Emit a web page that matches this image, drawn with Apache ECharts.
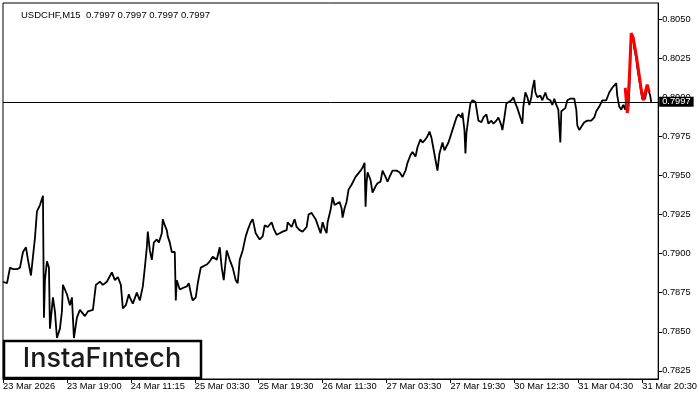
<!DOCTYPE html>
<html><head><meta charset="utf-8">
<script src="https://cdn.jsdelivr.net/npm/echarts@6/dist/echarts.min.js"></script>
<style>html,body{margin:0;padding:0;background:#fff}#c{width:700px;height:400px}</style>
</head><body><div id="c"></div><script>
const symbolName = 'USDCHF,M15';
const lastPrice = 0.7997;
const barIndex = [0,4,7,10,14,17,20,23,25,28,30,32,34,37,40,41,42,44,46,47,50,52,54,57,59,60,64,67,69,71,74,77,82,85,90,93,97,100,104,109,112,115,118,120,123,126,127,130,134,137,140,142,144,145,147,149,151,154,156,159,160,162,164,165,167,169,172,173,174,177,180,184,186,189,190,193,195,198,200,204,207,210,214,217,219,221,224,227,230,233,235,237,240,243,245,248,250,253,255,257,260,262,265,269,271,274,277,280,284,285,289,292,294,297,300,304,306,309,311,313,315,318,320,322,324,325,328,330,332,334,337,339,340,342,344,346,349,351,353,355,358,360,362,363,364,365,368,370,373,375,378,380,383,385,387,390,394,397,400,403,405,408,410,413,415,418,420,423,425,427,429,431,433,435,437,440,442,444,446,449,451,454,456,459,460,462,463,464,466,468,470,473,474,476,479,481,484,486,489,491,494,496,499,500,502,504,506,509,511,513,515,517,520,521,523,525,527,529,530,532,533,535,538,540,543,545,548,550,552,554,556,558,559,561,563,565,568,570,572,574,575,577,580,582,585,589,592,594,597,600,602,604,607,610,612,614,615,617,619,621,623,624,626,627,628,629,631,632,634,635,637,639,640,643,645,647,648,649];
const closePrice = [0.7882,0.7881,0.7891,0.7890,0.7890,0.7891,0.7901,0.7904,0.7896,0.7886,0.7898,0.7910,0.7927,0.7931,0.7937,0.7859,0.7883,0.7895,0.7891,0.7852,0.7872,0.7863,0.7846,0.7852,0.7863,0.7880,0.7874,0.7867,0.7872,0.7846,0.7859,0.7864,0.7860,0.7863,0.7864,0.7880,0.7882,0.7880,0.7882,0.7888,0.7883,0.7885,0.7880,0.7865,0.7867,0.7874,0.7872,0.7868,0.7875,0.7870,0.7879,0.7891,0.7904,0.7914,0.7902,0.7896,0.7907,0.7909,0.7907,0.7913,0.7922,0.7918,0.7915,0.7911,0.7907,0.7901,0.7901,0.7870,0.7883,0.7877,0.7878,0.7879,0.7881,0.7872,0.7870,0.7872,0.7881,0.7891,0.7891,0.7893,0.7895,0.7898,0.7896,0.7904,0.7891,0.7883,0.7902,0.7896,0.7891,0.7883,0.7881,0.7896,0.7902,0.7911,0.7915,0.7920,0.7922,0.7913,0.7914,0.7909,0.7911,0.7918,0.7917,0.7920,0.7916,0.7912,0.7913,0.7914,0.7915,0.7920,0.7917,0.7922,0.7917,0.7915,0.7914,0.7917,0.7925,0.7926,0.7927,0.7922,0.7923,0.7913,0.7920,0.7916,0.7913,0.7920,0.7928,0.7936,0.7931,0.7930,0.7933,0.7929,0.7923,0.7929,0.7933,0.7941,0.7944,0.7945,0.7949,0.7948,0.7953,0.7955,0.7958,0.7930,0.7945,0.7952,0.7947,0.7939,0.7943,0.7945,0.7946,0.7953,0.7949,0.7946,0.7949,0.7953,0.7953,0.7952,0.7949,0.7953,0.7958,0.7963,0.7965,0.7962,0.7968,0.7973,0.7971,0.7973,0.7975,0.7978,0.7974,0.7967,0.7960,0.7953,0.7964,0.7971,0.7966,0.7965,0.7971,0.7977,0.7981,0.7987,0.7989,0.7987,0.7990,0.7979,0.7964,0.7977,0.7987,0.7996,0.7998,0.7997,0.7996,0.7985,0.7984,0.7987,0.7989,0.7983,0.7985,0.7983,0.7985,0.7987,0.7982,0.7979,0.7987,0.7996,0.7997,0.7998,0.8000,0.7996,0.7993,0.7992,0.7983,0.7994,0.8003,0.8000,0.7995,0.8000,0.8005,0.8011,0.8003,0.8000,0.8001,0.7998,0.8003,0.7999,0.7998,0.7995,0.7999,0.7995,0.7992,0.7971,0.7991,0.7990,0.7993,0.7998,0.7999,0.8000,0.7999,0.7992,0.7982,0.7979,0.7982,0.7984,0.7985,0.7985,0.7987,0.7991,0.7994,0.7998,0.7999,0.7998,0.8003,0.8006,0.8007,0.8009,0.8001,0.7994,0.7992,0.7995,0.7992,0.8000,0.7991,0.8003,0.8021,0.8040,0.8038,0.8031,0.8025,0.8019,0.8011,0.8003,0.7999,0.7999,0.8007,0.8003,0.8001,0.7997];
const patternIndex = [623,625,627,629,631,634,637,639,641,643,645,647];
const patternPrice = [0.8006,0.7990,0.8011,0.8041,0.8038,0.8027,0.8014,0.8005,0.7998,0.7998,0.8008,0.8003];
const priceTicks = [0.7825,0.7850,0.7875,0.7900,0.7925,0.7950,0.7975,0.8000,0.8025,0.8050];
const timeTickIndex = [0,64,128,192,256,320,384,448,512,576,640];
const timeTickLabels = ['23 Mar 2026','23 Mar 19:00','24 Mar 11:15','25 Mar 03:30','25 Mar 19:30','26 Mar 11:30','27 Mar 03:30','27 Mar 19:30','30 Mar 12:30','31 Mar 04:30','31 Mar 20:30'];
const logoText = 'InstaF\u0131ntech';

const font = '"Liberation Sans", Arial, sans-serif';
const chart = echarts.init(document.getElementById('c'), null, {renderer: 'canvas'});
chart.setOption({
  animation: false,
  backgroundColor: '#fff',
  title: {
    text: symbolName + '  ' + [lastPrice, lastPrice, lastPrice, lastPrice].map(v => v.toFixed(4)).join(' '),
    left: 16, top: 5,
    textStyle: {fontSize: 9.5, fontWeight: 'normal', color: '#000', fontFamily: font}
  },
  grid: {left: 3, right: 41, top: 3, bottom: 21, show: true, borderColor: '#000', borderWidth: 1, backgroundColor: '#fff'},
  xAxis: {
    type: 'value', min: 0, max: 656,
    axisLine: {show: true, onZero: false, lineStyle: {color: '#000', width: 1}},
    splitLine: {show: false},
    axisTick: {show: true, length: 4, customValues: timeTickIndex, lineStyle: {color: '#000'}},
    axisLabel: {
      customValues: timeTickIndex,
      formatter: v => { const k = timeTickIndex.indexOf(Math.round(v)); return k >= 0 ? timeTickLabels[k] : ''; },
      align: 'left', margin: 3, color: '#000', fontSize: 9.3, fontFamily: font
    }
  },
  yAxis: {
    type: 'value', position: 'right', min: 0.78198, max: 0.80602,
    axisLine: {show: true, onZero: false, lineStyle: {color: '#000', width: 1}},
    splitLine: {show: false},
    axisTick: {show: true, length: 4, customValues: priceTicks, lineStyle: {color: '#000'}},
    axisLabel: {customValues: priceTicks, formatter: v => v.toFixed(4), margin: 4, color: '#000', fontSize: 9.3, fontFamily: font}
  },
  series: [
    {
      type: 'line', name: 'close', z: 3,
      data: barIndex.map((b, k) => [b, closePrice[k]]),
      symbol: 'none', lineStyle: {color: '#000', width: 1.8},
      markLine: {
        silent: true, symbol: ['none', 'none'], animation: false, precision: 4,
        lineStyle: {color: '#000', width: 1, type: 'solid'},
        label: {
          show: true, position: 'end', distance: 1,
          formatter: p => Number(p.value).toFixed(4),
          backgroundColor: '#000', color: '#fff', padding: [1, 3, 0, 3],
          fontSize: 9.3, fontFamily: font
        },
        data: [{yAxis: lastPrice}]
      }
    },
    {
      type: 'line', name: 'pattern', z: 4,
      data: patternIndex.map((b, k) => [b, patternPrice[k]]),
      symbol: 'none', lineStyle: {color: '#ff0000', width: 3}
    }
  ],
  graphic: [
    {type: 'rect', z: 100, shape: {x: 4, y: 341, width: 197, height: 37}, style: {fill: '#fff', stroke: '#000', lineWidth: 2.5}},
    {type: 'text', z: 101, x: 102, y: 359, style: {text: logoText, x: 0, y: 0, align: 'center', verticalAlign: 'middle', fill: '#1a1a1a', font: '500 27px Inter, Lato, sans-serif'}}
  ]
});
</script></body></html>
